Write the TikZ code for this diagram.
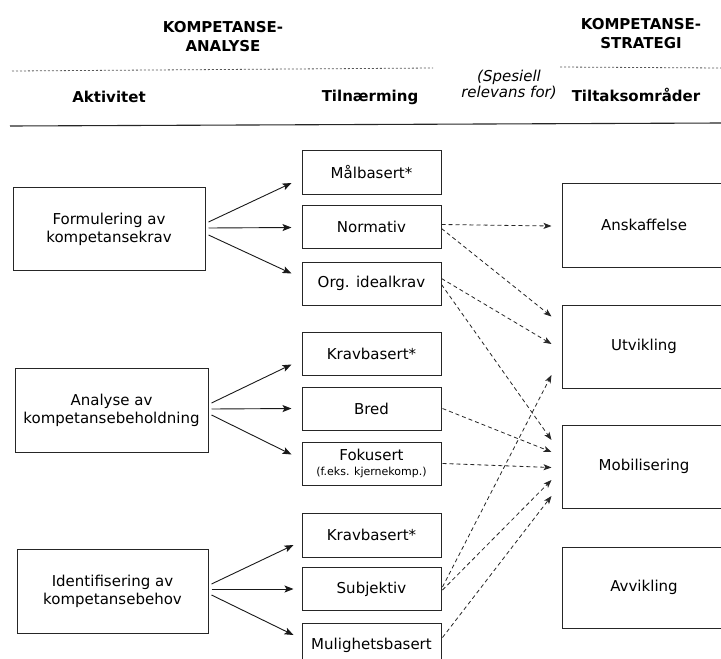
\documentclass[tikz,border=0pt]{standalone}
\usepackage{fontspec}
\setmainfont{DejaVu Sans}
\usetikzlibrary{arrows.meta,calc}
\begin{document}
\begin{tikzpicture}[x=1pt,y=-1pt,
  base/.style={font=\fontsize{15}{18}\selectfont, align=center, inner sep=0pt, text=black},
  head/.style={font=\fontsize{15}{19}\selectfont\bfseries, align=center, inner sep=0pt, text=black},
  actbox/.style={base, draw=black!85, line width=1pt, minimum width=192pt, minimum height=83pt},
  appbox/.style={base, draw=black!85, line width=1pt, minimum width=139pt, minimum height=43pt},
  areabox/.style={base, draw=black!85, line width=1pt, minimum width=164pt, minimum height=83pt},
  solidarrow/.style={-{Stealth[length=9pt,width=7pt,inset=2pt]}, line width=0.9pt, black!90},
  dasharrow/.style={-{Stealth[length=8pt,width=6pt,inset=2pt]}, line width=0.8pt,
    dash pattern=on 4pt off 3pt, black!85},
  dotrule/.style={line width=0.8pt, black!65, dash pattern=on 2pt off 2pt},
]
\useasboundingbox (0,0) rectangle (721,659);
\clip (0,0) rectangle (721,659);

% header
\node[head] (hanalyse) at (223,37) {KOMPETANSE-\\ANALYSE};
\node[head] (hstrategi) at (641,34) {KOMPETANSE-\\STRATEGI};
\draw[dotrule] (12,71) -- (433,68);
\draw[dotrule] (560,67) -- (721,68);
\node[base, font=\fontsize{15}{16}\selectfont\itshape] (relevans) at (509,85) {(Spesiell\\relevans for)};
\node[head] (aktivitet) at (109,97) {Aktivitet};
\node[head] (tilnaerming) at (370,97) {Tilnærming};
\node[head] (tiltak) at (636,95) {Tiltaksområder};
\draw[line width=1.1pt, black!85] (10,126) -- (721,123);

% activities
\node[actbox] (f) at (109,229) {Formulering av\\kompetansekrav};
\node[actbox, minimum width=193pt, minimum height=84pt] (a) at (111.5,410) {Analyse av\\kompetansebeholdning};
\node[actbox, minimum width=191pt, minimum height=84pt] (i) at (112.5,591) {Identifisering av\\kompetansebehov};

% approaches
\node[appbox, minimum height=44pt] (m1) at (371.5,172) {Målbasert*};
\node[appbox] (m2) at (371.5,226.5) {Normativ};
\node[appbox] (m3) at (371.5,283.5) {Org. idealkrav};
\node[appbox] (m4) at (371.5,353.5) {Kravbasert*};
\node[appbox] (m5) at (371.5,408.5) {Bred};
\node[appbox] (m6) at (371.5,463.5) {Fokusert\\[-3pt]{\fontsize{11}{13}\selectfont (f.eks. kjernekomp.)}};
\node[appbox, minimum height=44pt] (m7) at (371.5,535) {Kravbasert*};
\node[appbox] (m8) at (371.5,589) {Subjektiv};
\node[appbox, minimum height=44pt] (m9) at (371.5,645) {Mulighetsbasert};

% areas of measures
\node[areabox, minimum height=84pt] (r1) at (644,225) {Anskaffelse};
\node[areabox] (r2) at (644,346.5) {Utvikling};
\node[areabox] (r3) at (644,466.5) {Mobilisering};
\node[areabox, minimum height=81pt] (r4) at (644,587.5) {Avvikling};

% activity -> approach
\draw[solidarrow] ([xshift=3pt,yshift=7pt]f.east) -- ([xshift=-10pt,yshift=-11pt]m1.west);
\draw[solidarrow] ([xshift=3pt,yshift=1pt]f.east) -- ([xshift=-10pt,yshift=-1pt]m2.west);
\draw[solidarrow] ([xshift=3pt,yshift=-6pt]f.east) -- ([xshift=-10pt,yshift=10pt]m3.west);
\draw[solidarrow] ([xshift=3pt,yshift=7pt]a.east) -- ([xshift=-10pt,yshift=-11pt]m4.west);
\draw[solidarrow] ([xshift=3pt,yshift=1pt]a.east) -- ([xshift=-10pt,yshift=0pt]m5.west);
\draw[solidarrow] ([xshift=3pt,yshift=-5pt]a.east) -- ([xshift=-10pt,yshift=9pt]m6.west);
\draw[solidarrow] ([xshift=3pt,yshift=7pt]i.east) -- ([xshift=-8pt,yshift=-10pt]m7.west);
\draw[solidarrow] ([xshift=3pt,yshift=2pt]i.east) -- ([xshift=-8pt,yshift=0pt]m8.west);
\draw[solidarrow] ([xshift=3pt,yshift=-4pt]i.east) -- ([xshift=-8pt,yshift=10pt]m9.west);

% approach -> area of measures
\draw[dasharrow] ([yshift=2pt]m2.east) -- ([xshift=-10pt,yshift=-1pt]r1.west);
\draw[dasharrow] ([yshift=-2pt]m2.east) -- ([xshift=-10pt,yshift=30pt]r2.west);
\draw[dasharrow] ([yshift=5pt]m3.east) -- ([xshift=-10pt,yshift=2.5pt]r2.west);
\draw[dasharrow] ([yshift=-1pt]m3.east) -- ([xshift=-10pt,yshift=26.5pt]r3.west);
\draw[dasharrow] ([xshift=1pt,yshift=0pt]m5.east) -- ([xshift=-10pt,yshift=14.5pt]r3.west);
\draw[dasharrow] ([xshift=1pt,yshift=0pt]m6.east) -- ([xshift=-10pt,yshift=-1pt]r3.west);
\draw[dasharrow] ([xshift=1pt,yshift=2pt]m8.east) -- ([xshift=-10pt,yshift=-28.5pt]r2.west);
\draw[dasharrow] ([xshift=1pt,yshift=-1pt]m8.east) -- ([xshift=-10pt,yshift=-13.5pt]r3.west);
\draw[dasharrow] ([xshift=1pt,yshift=7.5pt]m9.east) -- ([xshift=-10pt,yshift=-29.5pt]r3.west);
\end{tikzpicture}
\end{document}
